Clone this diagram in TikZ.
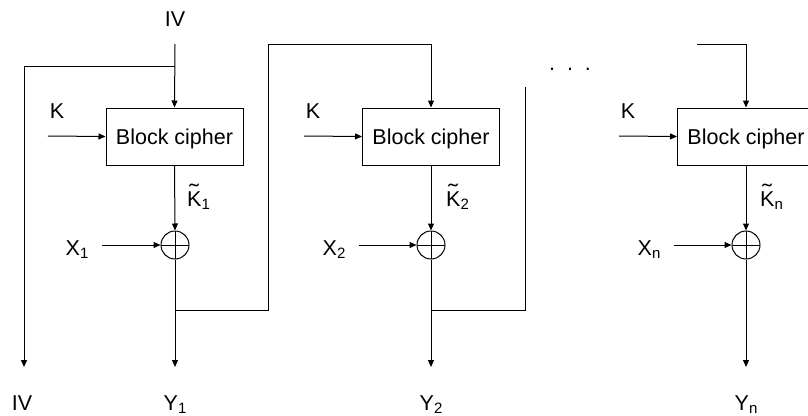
\documentclass[tikz,border=0pt]{standalone}
\usepackage{fontspec}
\setmainfont{Liberation Sans}
\usetikzlibrary{arrows.meta}
\newcommand\lsub[1]{\raisebox{-3pt}{\fontsize{15}{15}\selectfont #1}}
\newcommand\tK{\makebox[0pt][l]{\makebox[14pt][c]{\raisebox{7pt}{\scalebox{1.35}[1]{˜}}}}K}
\begin{document}
\begin{tikzpicture}[x=1pt,y=1pt,
  every node/.style={font=\fontsize{21.5}{25}\selectfont, inner sep=0pt},
  cipher/.style={draw, line width=1pt, minimum width=137pt, minimum height=57pt, text depth=0pt},
  xor/.style={draw, circle, line width=1pt, minimum size=28pt,
    path picture={\draw[line width=1pt] (path picture bounding box.north) -- (path picture bounding box.south)
      (path picture bounding box.west) -- (path picture bounding box.east);}},
  wire/.style={line width=1pt},
  arr/.style={wire, -{Triangle[length=7pt,width=6pt]}},
  lbl/.style={anchor=base},
  lblw/.style={anchor=base west}
]
\clip (0,0) rectangle (808,-415);

% ---------- stage 1 ----------
\node[lbl] (ivtop) at (175,-27) {IV};
\coordinate (ivs) at (175,-44);
\coordinate (ivbr) at (175,-66);
\coordinate (ivl) at (24,-66);
\coordinate (ivend) at (24,-367);
\node[lbl] (ivbot) at (22,-410) {IV};
\node[cipher] (bc1) at (174.5,-136.5) {Block cipher};
\node[lbl] (k1) at (57,-118) {K};
\coordinate (k1s) at (48,-136);
\node[xor] (x1o) at (175,-245) {};
\node[lbl] (x1) at (77,-255) {X\lsub{1}};
\coordinate (x1s) at (102,-245);
\node[lblw] (kt1) at (187,-206) {\tK\lsub{1}};
\coordinate (y1e) at (175,-367);
\node[lbl] (y1) at (175,-410) {Y\lsub{1}};
\coordinate (fb1a) at (175,-310);
\coordinate (fb1b) at (268,-310);
\coordinate (fb1c) at (268,-44);
\coordinate (fb1d) at (431,-44);

\draw[arr] (ivs) -- (bc1.north);
\draw[arr] (ivbr) -- (ivl) -- (ivend);
\draw[arr] (k1s) -- (bc1.west);
\draw[arr] (bc1.south) -- (x1o.north);
\draw[arr] (x1s) -- (x1o.west);
\draw[arr] (x1o.south) -- (y1e);

% ---------- stage 2 ----------
\node[cipher] (bc2) at (431,-136.5) {Block cipher};
\node[lbl] (k2) at (313,-118) {K};
\coordinate (k2s) at (304,-136);
\node[xor] (x2o) at (431,-245) {};
\node[lbl] (x2) at (334,-255) {X\lsub{2}};
\coordinate (x2s) at (359,-245);
\node[lblw] (kt2) at (446,-206) {\tK\lsub{2}};
\coordinate (y2e) at (431,-367);
\node[lbl] (y2) at (431,-410) {Y\lsub{2}};
\coordinate (fb2a) at (431,-310);
\coordinate (fb2b) at (525,-310);
\coordinate (fb2c) at (525,-87);

\draw[arr] (fb1a) -- (fb1b) -- (fb1c) -- (fb1d) -- (bc2.north);
\draw[arr] (k2s) -- (bc2.west);
\draw[arr] (bc2.south) -- (x2o.north);
\draw[arr] (x2s) -- (x2o.west);
\draw[arr] (x2o.south) -- (y2e);
\draw[wire] (fb2a) -- (fb2b) -- (fb2c);

\node[lbl] (dots) at (570,-70) {.\hspace{12pt}.\hspace{12pt}.};

% ---------- stage n ----------
\node[cipher] (bcn) at (746,-136.5) {Block cipher};
\node[lbl] (kn) at (628,-118) {K};
\coordinate (kns) at (619,-136);
\coordinate (ins) at (697,-44);
\coordinate (inc) at (746,-44);
\node[xor] (xno) at (746,-245) {};
\node[lbl] (xn) at (649,-255) {X\lsub{n}};
\coordinate (xns) at (674,-245);
\node[lblw] (ktn) at (760,-206) {\tK\lsub{n}};
\coordinate (yne) at (746,-367);
\node[lbl] (yn) at (746,-410) {Y\lsub{n}};

\draw[arr] (ins) -- (inc) -- (bcn.north);
\draw[arr] (kns) -- (bcn.west);
\draw[arr] (bcn.south) -- (xno.north);
\draw[arr] (xns) -- (xno.west);
\draw[arr] (xno.south) -- (yne);
\end{tikzpicture}
\end{document}
